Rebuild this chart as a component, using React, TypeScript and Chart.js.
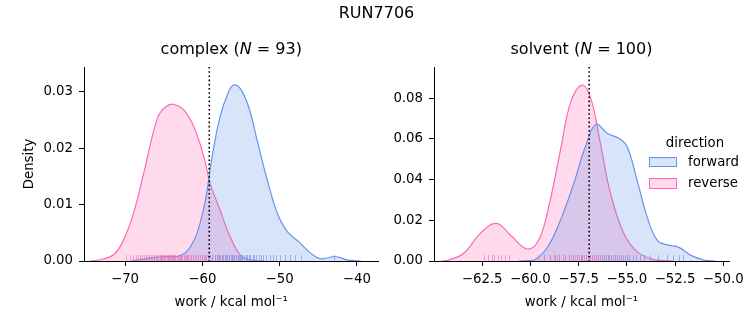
import React, { useEffect, useRef } from "react";
import { Chart, registerables } from "chart.js";

Chart.register(...registerables);

const FONT = "'DejaVu Sans', 'Liberation Sans', sans-serif";
const BLUE = "#6495ED";
const PINK = "#FF69B4";
const BLUE_FILL = "rgba(100,149,237,0.25)";
const PINK_FILL = "rgba(255,105,180,0.25)";

// ---------- complex ----------
const complexForwardX = [-69.3, -66.7, -65.0, -63.3, -62.0, -60.7, -59.6, -58.8, -57.7, -56.6, -55.95, -55.1, -54.0, -52.9, -51.6, -50.3, -49.0, -47.5, -46.0, -44.7, -42.8, -41.3, -39.5];
const complexForwardY = [0, 0.0005, 0.0008, 0.0008, 0.0017, 0.0049, 0.0108, 0.0179, 0.0256, 0.03, 0.0312, 0.0306, 0.0273, 0.0214, 0.0144, 0.0085, 0.0052, 0.0034, 0.0014, 0.0004, 0.0008, 0.0002, 0];
const complexReverseX = [-74.5, -73.7, -71.5, -70.2, -68.9, -67.6, -66.5, -66.0, -65.5, -64.6, -63.8, -62.4, -61.1, -59.8, -59.0, -57.7, -56.4, -55.1, -53.8, -52.0];
const complexReverseY = [0, 0.0001, 0.0011, 0.0037, 0.0085, 0.0155, 0.022, 0.0245, 0.0262, 0.0275, 0.0278, 0.0268, 0.0238, 0.0185, 0.0138, 0.009, 0.0043, 0.0011, 0.0002, 0];
const complexForwardRug = [-66.9, -66.2, -65.3, -64.4, -63.6, -62.7, -61.9, -61.2, -60.6, -60.1, -59.7, -59.3, -59.0, -58.7, -58.4, -58.1, -57.9, -57.7, -57.5, -57.3, -57.1, -56.9, -56.8, -56.6, -56.5, -56.3, -56.2, -56.0, -55.9, -55.7, -55.6, -55.4, -55.3, -55.1, -55.0, -54.8, -54.6, -54.4, -54.2, -54.0, -53.8, -53.5, -53.3, -53.0, -52.7, -52.4, -52.1, -51.7, -51.3, -50.9, -50.4, -49.9, -49.3, -48.7, -48.0, -47.2, -43.0];
const complexReverseRug = [-69.9, -69.4, -69.0, -68.6, -68.3, -68.0, -67.8, -67.5, -67.3, -67.1, -66.9, -66.7, -66.5, -66.3, -66.2, -66.0, -65.8, -65.7, -65.5, -65.4, -65.2, -65.1, -64.9, -64.8, -64.6, -64.5, -64.3, -64.2, -64.0, -63.9, -63.8, -63.6, -63.5, -63.3, -63.2, -63.0, -62.9, -62.7, -62.6, -62.4, -62.3, -62.1, -62.0, -61.8, -61.6, -61.4, -61.2, -61.0, -60.8, -60.6, -60.3, -60.1, -59.8, -59.5, -59.2, -58.8, -58.4, -58.0, -57.5, -56.9, -56.2, -55.4];
const complexRef = -59.1;
const complexXTicks = [-70, -60, -50, -40];
const complexYTicks = [0, 0.01, 0.02, 0.03];

// ---------- solvent ----------
const solventForwardX = [-60.6, -59.8, -59.1, -58.44, -57.75, -57.15, -56.6, -56.0, -55.4, -54.98, -54.47, -53.95, -53.43, -52.9, -52.3, -51.7, -51.0, -50.4];
const solventForwardY = [0, 0.0005, 0.007, 0.0201, 0.0382, 0.0562, 0.0672, 0.0627, 0.0603, 0.0562, 0.0398, 0.0218, 0.0103, 0.0079, 0.0067, 0.0029, 0.0005, 0];
const solventReverseX = [-64.6, -64.3, -63.46, -62.6, -61.76, -61.04, -60.17, -59.57, -59.05, -58.44, -57.93, -57.34, -56.89, -56.37, -55.85, -55.16, -54.47, -53.6, -52.6];
const solventReverseY = [0, 0.0003, 0.0038, 0.0136, 0.0185, 0.0128, 0.0059, 0.0103, 0.0267, 0.0545, 0.0775, 0.0865, 0.0807, 0.0578, 0.0333, 0.0136, 0.0046, 0.0007, 0];
const solventForwardRug = [-59.3, -59.0, -58.7, -58.5, -58.2, -58.0, -57.8, -57.6, -57.4, -57.3, -57.1, -57.0, -56.9, -56.8, -56.7, -56.6, -56.5, -56.4, -56.3, -56.2, -56.1, -56.0, -55.9, -55.8, -55.7, -55.6, -55.5, -55.4, -55.3, -55.2, -55.1, -55.0, -54.9, -54.7, -54.5, -54.3, -54.1, -53.8, -53.4, -52.9, -52.6, -52.3, -52.1];
const solventReverseRug = [-62.4, -62.2, -62.0, -61.9, -61.7, -61.5, -61.3, -61.1, -59.6, -59.3, -59.0, -58.8, -58.6, -58.5, -58.3, -58.2, -58.0, -57.9, -57.8, -57.7, -57.6, -57.5, -57.4, -57.3, -57.2, -57.1, -57.0, -56.9, -56.8, -56.7, -56.6, -56.5, -56.3, -56.2, -56.0, -55.8, -55.6, -55.3, -55.0];
const solventRef = -56.95;
const solventXTicks = [-62.5, -60, -57.5, -55, -52.5, -50];
const solventYTicks = [0, 0.02, 0.04, 0.06, 0.08];

const minus = (s: string) => s.replace("-", "\u2212");

type PanelProps = {
  fx: number[]; fy: number[]; rx: number[]; ry: number[];
  fRug: number[]; rRug: number[]; refLine: number;
  xTicks: number[]; yTicks: number[];
  xMin: number; xMax: number; yMax: number;
  xDec: number; yDec: number;
  width: number; yAxisWidth: number; padRight: number;
  yTitle: string | null;
};

function Panel(p: PanelProps) {
  const ref = useRef<HTMLCanvasElement | null>(null);
  useEffect(() => {
    if (!ref.current) return;
    const toPts = (xs: number[], ys: number[]) => xs.map((x, i) => ({ x, y: ys[i] }));
    const overlay = {
      id: "overlay",
      afterDatasetsDraw(chart: any) {
        const { ctx, chartArea, scales } = chart;
        const xs = scales.x;
        ctx.save();
        ctx.lineWidth = 1;
        ctx.globalAlpha = 0.6;
        const rugs: [number[], string][] = [[p.fRug, BLUE], [p.rRug, PINK]];
        for (const [vals, col] of rugs) {
          ctx.strokeStyle = col;
          for (const v of vals) {
            const px = Math.round(xs.getPixelForValue(v)) + 0.5;
            ctx.beginPath();
            ctx.moveTo(px, chartArea.bottom);
            ctx.lineTo(px, chartArea.bottom - 6);
            ctx.stroke();
          }
        }
        ctx.globalAlpha = 1;
        ctx.strokeStyle = "#000";
        ctx.lineWidth = 1.6;
        ctx.setLineDash([1.6, 2.6]);
        const rxp = xs.getPixelForValue(p.refLine);
        ctx.beginPath();
        ctx.moveTo(rxp, chartArea.top);
        ctx.lineTo(rxp, chartArea.bottom);
        ctx.stroke();
        ctx.restore();
      },
    };
    const tickFont = { family: FONT, size: 13.3 };
    const chart = new Chart(ref.current, {
      type: "line",
      data: {
        datasets: [
          {
            label: "forward",
            data: toPts(p.fx, p.fy),
            borderColor: BLUE,
            backgroundColor: BLUE_FILL,
            borderWidth: 1.2,
            fill: "origin",
            pointRadius: 0,
            tension: 0.4,
          },
          {
            label: "reverse",
            data: toPts(p.rx, p.ry),
            borderColor: PINK,
            backgroundColor: PINK_FILL,
            borderWidth: 1.2,
            fill: "origin",
            pointRadius: 0,
            tension: 0.4,
          },
        ],
      },
      options: {
        animation: false,
        responsive: false,
        devicePixelRatio: 1,
        layout: { padding: { left: 0, right: p.padRight, top: 67, bottom: 0 } },
        plugins: { legend: { display: false }, tooltip: { enabled: false }, title: { display: false } },
        scales: {
          x: {
            type: "linear",
            min: p.xMin,
            max: p.xMax,
            afterBuildTicks: (s: any) => { s.ticks = p.xTicks.map((v) => ({ value: v })); },
            afterFit: (s: any) => { s.height = 64; },
            ticks: {
              autoSkip: false, maxRotation: 0, color: "#000", font: tickFont, padding: 6,
              callback: (v: any) => minus(Number(v).toFixed(p.xDec)),
            },
            grid: { display: true, drawOnChartArea: false, drawTicks: true, tickLength: 5, color: "#000", lineWidth: 1 },
            border: { display: true, color: "#000", width: 1 },
            title: {
              display: true, text: "work / kcal mol\u207B\u00B9", color: "#000",
              font: { family: FONT, size: 13.3, lineHeight: 1.2 }, padding: { top: 0, bottom: 14.9 },
            },
          },
          y: {
            type: "linear",
            min: 0,
            max: p.yMax,
            afterBuildTicks: (s: any) => { s.ticks = p.yTicks.map((v) => ({ value: v })); },
            afterFit: (s: any) => { s.width = p.yAxisWidth; },
            ticks: {
              autoSkip: false, color: "#000", font: tickFont, padding: 6,
              callback: (v: any) => Number(v).toFixed(p.yDec),
            },
            grid: { display: true, drawOnChartArea: false, drawTicks: true, tickLength: 5, color: "#000", lineWidth: 1 },
            border: { display: true, color: "#000", width: 1 },
            title: {
              display: !!p.yTitle, text: p.yTitle || "", color: "#000",
              font: { family: FONT, size: 13.3, lineHeight: 1.2 }, padding: { top: 22, bottom: 0 },
            },
          },
        },
      },
      plugins: [overlay],
    } as any);
    return () => chart.destroy();
  }, []);
  return <canvas ref={ref} width={p.width} height={325} style={{ width: p.width, height: 325, display: "block" }} />;
}

export default function App() {
  const txt: React.CSSProperties = { position: "absolute", fontFamily: FONT, color: "#000", lineHeight: 1, whiteSpace: "nowrap" };
  return (
    <div style={{ position: "absolute", left: 0, top: 0, width: 753, height: 325, overflow: "hidden", background: "#fff" }}>
      <div style={{ position: "absolute", left: 0, top: 0 }}>
        <Panel
          fx={complexForwardX} fy={complexForwardY} rx={complexReverseX} ry={complexReverseY}
          fRug={complexForwardRug} rRug={complexReverseRug} refLine={complexRef}
          xTicks={complexXTicks} yTicks={complexYTicks}
          xMin={-75.31} xMax={-37.2} yMax={0.0344} xDec={0} yDec={2}
          width={400} yAxisWidth={84} padRight={21.5} yTitle="Density"
        />
      </div>
      <div style={{ position: "absolute", left: 390, top: 0 }}>
        <Panel
          fx={solventForwardX} fy={solventForwardY} rx={solventReverseX} ry={solventReverseY}
          fRug={solventForwardRug} rRug={solventReverseRug} refLine={solventRef}
          xTicks={solventXTicks} yTicks={solventYTicks}
          xMin={-65.0} xMax={-49.7} yMax={0.0954} xDec={1} yDec={2}
          width={363} yAxisWidth={44} padRight={24} yTitle={null}
        />
      </div>
      <div style={{ ...txt, left: 0, width: 753, top: 4.8, fontSize: 16, textAlign: "center" }}>RUN7706</div>
      <div style={{ ...txt, left: 84, width: 294.5, top: 41, fontSize: 16, textAlign: "center" }}>
        complex (<i>N</i> = 93)
      </div>
      <div style={{ ...txt, left: 434, width: 295, top: 41, fontSize: 16, textAlign: "center" }}>
        solvent (<i>N</i> = 100)
      </div>
      <div style={{ ...txt, left: 645, width: 100, top: 135.8, fontSize: 13.3, textAlign: "center" }}>direction</div>
      <div style={{ position: "absolute", left: 648.5, top: 156.7, width: 26, height: 8.6, background: BLUE_FILL, border: `1.2px solid ${BLUE}` }} />
      <div style={{ position: "absolute", left: 648.5, top: 178, width: 26, height: 8.6, background: PINK_FILL, border: `1.2px solid ${PINK}` }} />
      <div style={{ ...txt, left: 688, top: 155.4, fontSize: 13.3 }}>forward</div>
      <div style={{ ...txt, left: 688, top: 176, fontSize: 13.3 }}>reverse</div>
    </div>
  );
}
